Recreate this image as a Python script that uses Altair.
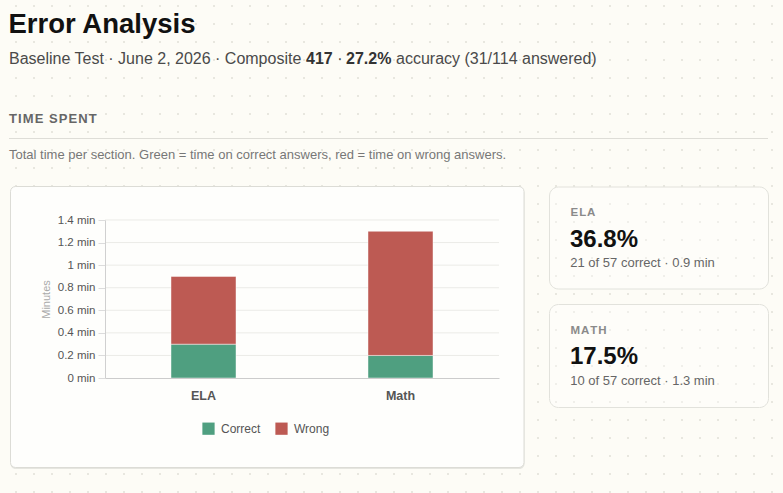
import altair as alt
import pandas as pd

# ---- data -------------------------------------------------------------
sections = ["ELA", "Math"]
correct_minutes = [0.3, 0.2]
wrong_minutes = [0.6, 1.1]
correct_counts = [21, 10]
question_counts = [57, 57]
outcomes = ["Correct", "Wrong"]
outcome_colors = ["#4f9f80", "#bd5a53"]
minute_ticks = [0, 0.2, 0.4, 0.6, 0.8, 1.0, 1.2, 1.4]

page_title = "Error Analysis"
subtitle_parts = ["Baseline Test · June 2, 2026 · Composite", "417", "·", "27.2%",
                  "accuracy (31/114 answered)"]
section_heading = "TIME SPENT"
section_note = ("Total time per section. Green = time on correct answers, "
                "red = time on wrong answers.")

# ---- page geometry ---------------------------------------------------
FONT = "Liberation Sans"
LEFT, TOP = 105, 220          # plot origin on the page
PLOT_W, PLOT_H = 394, 158
PAGE_W, PAGE_H = 783, 493


def px(x):
    return x - LEFT


def py(y):
    return y - TOP


def spaced(text):
    # tracking for small-caps style headings
    return "\u200a".join(text)


one = alt.Data(values=[{}])


def label(text, x, y, size, color, weight="normal", align="left"):
    return alt.Chart(one).mark_text(
        text=text, font=FONT, fontSize=size, fontWeight=weight, color=color,
        align=align, baseline="alphabetic",
    ).encode(x=alt.value(px(x)), y=alt.value(py(y)))


def box(x1, y1, x2, y2, fill, stroke=None, radius=0, fill_opacity=1.0):
    kw = dict(fill=fill, cornerRadius=radius, fillOpacity=fill_opacity)
    if stroke:
        kw.update(stroke=stroke, strokeWidth=1)
    return alt.Chart(one).mark_rect(**kw).encode(
        x=alt.value(px(x1)), x2=alt.value(px(x2)),
        y=alt.value(py(y1)), y2=alt.value(py(y2)),
    )


# ---- dotted page background -----------------------------------------
dots = (
    alt.Chart(alt.sequence(0, 44, as_="col"))
    .transform_calculate(row="sequence(0, 28)")
    .transform_flatten(["row"])
    .transform_calculate(dx=f"16 + 18 * datum.col - {LEFT}",
                         dy=f"6 + 18 * datum.row - {TOP}")
    .mark_square(size=4, color="#e8e7df", opacity=1)
    .encode(x=alt.X("dx:Q", scale=None, axis=None),
            y=alt.Y("dy:Q", scale=None, axis=None))
)

# ---- cards -----------------------------------------------------------
chart_shadow = box(10.5, 188, 524.5, 469, "#e6e6e0", radius=5)
chart_card = box(10.5, 186.5, 524, 467.5, "#fefefc", stroke="#dcdcd6", radius=5)
ela_card = box(549.5, 187, 768.5, 289, "#ffffff", stroke="#e2e2dc", radius=9,
               fill_opacity=0.35)
math_card = box(549.5, 304.5, 768.5, 407.5, "#ffffff", stroke="#e2e2dc", radius=9,
                fill_opacity=0.35)

# ---- stacked bars ----------------------------------------------------
rows = []
for s, c, w in zip(sections, correct_minutes, wrong_minutes):
    rows.append({"section": s, "outcome": outcomes[0], "minutes": c, "rank": 0})
    rows.append({"section": s, "outcome": outcomes[1], "minutes": w, "rank": 1})
bars_df = pd.DataFrame(rows)

yscale = alt.Scale(domain=[0, 1.4], nice=False, zero=True)

grid = alt.Chart(pd.DataFrame({"tick": minute_ticks[1:]})).mark_rule(
    color="#ebebe7", strokeWidth=1
).encode(
    y=alt.Y("tick:Q", scale=yscale, axis=None),
    x=alt.value(0), x2=alt.value(PLOT_W),
)

bars = alt.Chart(bars_df).mark_bar(
    size=65, stroke="#ffffff", strokeOpacity=0.45, strokeWidth=1
).encode(
    x=alt.X("section:N", sort=sections,
            scale=alt.Scale(paddingInner=0, paddingOuter=0),
            axis=alt.Axis(title=None, labelAngle=0, ticks=False, zindex=1,
                          domainColor="#cccccc", labelFont=FONT,
                          labelFontSize=12.5, labelFontWeight="bold",
                          labelColor="#555555", labelPadding=11)),
    y=alt.Y("minutes:Q", stack="zero", scale=yscale,
            axis=alt.Axis(values=minute_ticks,
                          labelExpr="format(datum.value, '~g') + ' min'",
                          grid=False, zindex=1, domainColor="#d0d0d0",
                          tickColor="#dcdcdc", tickSize=7, labelFont=FONT,
                          labelFontSize=11.5, labelColor="#555555", labelPadding=3,
                          title="Minutes", titleFont=FONT, titleFontSize=11,
                          titleFontWeight="normal", titleColor="#aaaaaa",
                          titleX=px(46), titleY=PLOT_H / 2, titleAngle=270,
                          titleAlign="center", titleBaseline="middle")),
    color=alt.Color("outcome:N",
                    scale=alt.Scale(domain=outcomes, range=outcome_colors),
                    legend=alt.Legend(title=None, orient="none",
                                      legendX=px(202), legendY=py(422),
                                      direction="horizontal", symbolType="square",
                                      symbolSize=150, symbolStrokeWidth=0,
                                      symbolOpacity=1, labelFont=FONT,
                                      labelFontSize=12, labelColor="#555555",
                                      labelOffset=6, columnPadding=14)),
    order=alt.Order("rank:Q"),
)

# ---- header texts ----------------------------------------------------
header = [
    label(page_title, 8.5, 32.5, 27.5, "#111111", "bold"),
    label(subtitle_parts[0], 9, 64.3, 16, "#4a4a4a"),
    label(subtitle_parts[1], 306, 64.3, 16, "#333333", "bold"),
    label(subtitle_parts[2], 337.2, 64.3, 16, "#4a4a4a"),
    label(subtitle_parts[3], 346, 64.3, 16, "#333333", "bold"),
    label(subtitle_parts[4], 396, 64.3, 16, "#4a4a4a"),
    label(spaced(section_heading), 9, 123.3, 13, "#666666", "bold"),
    label(section_note, 9, 159, 13, "#777777"),
]

heading_rule = alt.Chart(one).mark_rule(color="#deddd7", strokeWidth=1).encode(
    x=alt.value(px(9)), x2=alt.value(px(768)), y=alt.value(py(138.5))
)

# ---- summary cards ---------------------------------------------------
card_texts = []
for i, (s, c, t, cm, wm) in enumerate(zip(sections, correct_counts, question_counts,
                                          correct_minutes, wrong_minutes)):
    dy = i * 117.6
    pct = f"{100 * c / t:.1f}%"
    detail = f"{c} of {t} correct · {cm + wm:.1f} min"
    card_texts += [
        label(spaced(s.upper()), 570.5, 216 + dy, 11.5, "#8a8a8a", "bold"),
        label(pct, 570, 246.7 + dy, 24, "#111111", "bold"),
        label(detail, 570.3, 267 + dy, 13, "#666666"),
    ]

chart = alt.layer(
    dots, chart_shadow, chart_card, ela_card, math_card, heading_rule,
    grid, bars, *header, *card_texts,
).resolve_scale(
    x="independent", y="independent"
).properties(
    width=PLOT_W, height=PLOT_H, autosize="none",
    padding={"left": LEFT, "top": TOP,
             "right": PAGE_W - LEFT - PLOT_W, "bottom": PAGE_H - TOP - PLOT_H},
).configure(
    background="#fdfcf6"
).configure_view(
    stroke=None
)

chart.save("out.html", embed_options={"renderer": "svg", "actions": False})
